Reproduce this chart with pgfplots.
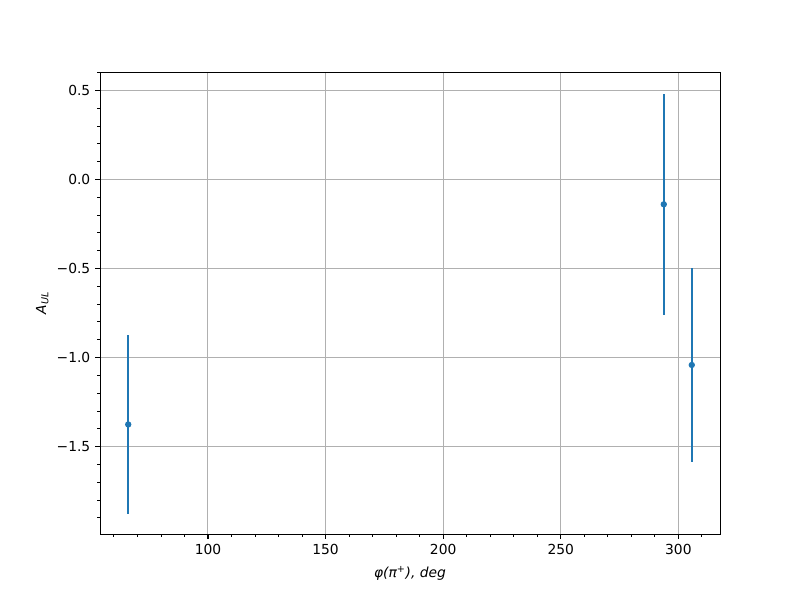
\documentclass[border=0pt]{standalone}
\usepackage{fontspec}
\setmainfont{DejaVu Sans}
\usepackage{pgfplots}
\pgfplotsset{compat=1.18}
\definecolor{mplblue}{HTML}{1F77B4}
\definecolor{gridgray}{HTML}{B0B0B0}
\begin{document}
\fontsize{10pt}{12pt}\selectfont
\begin{tikzpicture}
\path[use as bounding box] (-1in,-0.66in) rectangle (7in,5.34in);
\begin{axis}[
  at={(0,0)}, anchor=south west,
  scale only axis, width=6.2in, height=4.62in,
  xmin=54.1, xmax=317.7, ymin=-1.991, ymax=0.603,
  xtick={100,150,200,250,300},
  xticklabels={100,150,200,250,300},
  minor xtick={60,70,80,90,110,120,130,140,160,170,180,190,210,220,230,240,260,270,280,290,310},
  ytick={-1.5,-1,-0.5,0,0.5},
  yticklabels={−1.5,−1.0,−0.5,0.0,0.5},
  minor ytick={-1.9,-1.8,-1.7,-1.6,-1.4,-1.3,-1.2,-1.1,-0.9,-0.8,-0.7,-0.6,-0.4,-0.3,-0.2,-0.1,0.1,0.2,0.3,0.4,0.6},
  tick align=outside, tick pos=left,
  major tick length=3.5pt, minor tick length=2pt,
  every tick/.style={black, line width=0.8pt},
  minor tick style={black, line width=0.6pt},
  axis line style={line width=0.7pt},
  xmajorgrids, ymajorgrids,
  major grid style={gridgray, line width=0.7pt},
  ticklabel style={font=\fontsize{10pt}{12pt}\selectfont},
  xlabel={\textit{φ(π\textsuperscript{+}), deg}},
  ylabel={\textit{A}\textsubscript{\textit{UL}}},
  xlabel style={yshift=-2pt},
  ylabel style={yshift=-1pt},
]
\addplot[mplblue, only marks, mark=*, mark size=1.5pt, line width=1.5pt,
  error bars/.cd, y dir=both, y explicit, error mark=none,
  error bar style={mplblue, line width=1.5pt}]
  coordinates {
    (66.1,-1.376) +- (0,0.500)
    (293.8,-0.140) +- (0,0.620)
    (305.7,-1.042) +- (0,0.542)
  };
\end{axis}
\end{tikzpicture}
\end{document}
